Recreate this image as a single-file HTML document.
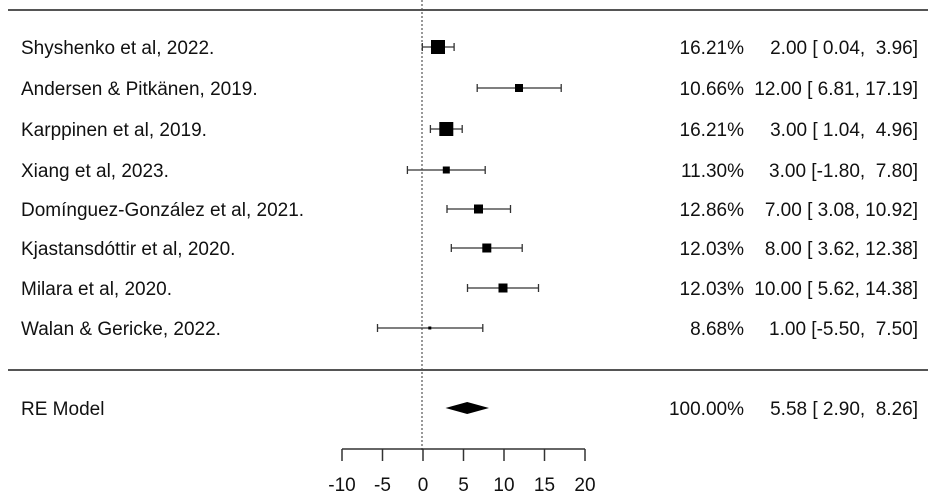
<!DOCTYPE html>
<html><head><meta charset="utf-8"><style>
html,body{margin:0;padding:0;background:#fff;}
svg{display:block;}
text{font-family:"Liberation Sans",Arial,sans-serif;font-size:19px;fill:#111;white-space:pre;}
</style></head><body>
<svg width="928" height="497" viewBox="0 0 928 497" xmlns="http://www.w3.org/2000/svg" xml:space="preserve">
<line x1="8" y1="10" x2="928" y2="10" stroke="#555" stroke-width="2"/>
<line x1="8" y1="370" x2="928" y2="370" stroke="#555" stroke-width="2"/>
<line x1="422" y1="0" x2="422" y2="452" stroke="#555" stroke-width="1.2" stroke-dasharray="2,2"/>
<g stroke="#333" stroke-width="1.3" fill="#000">
<line x1="422.3" y1="47" x2="454.1" y2="47"/><line x1="422.3" y1="43" x2="422.3" y2="51"/><line x1="454.1" y1="43" x2="454.1" y2="51"/>
<rect x="431" y="40" width="14" height="14" stroke="none"/>
<line x1="477.2" y1="88" x2="561.2" y2="88"/><line x1="477.2" y1="84" x2="477.2" y2="92"/><line x1="561.2" y1="84" x2="561.2" y2="92"/>
<rect x="515" y="84" width="8" height="8" stroke="none"/>
<line x1="430.4" y1="129" x2="462.2" y2="129"/><line x1="430.4" y1="125" x2="430.4" y2="133"/><line x1="462.2" y1="125" x2="462.2" y2="133"/>
<rect x="439.3" y="122" width="14" height="14" stroke="none"/>
<line x1="407.4" y1="170" x2="485.2" y2="170"/><line x1="407.4" y1="166" x2="407.4" y2="174"/><line x1="485.2" y1="166" x2="485.2" y2="174"/>
<rect x="442.8" y="166.5" width="7" height="7" stroke="none"/>
<line x1="447" y1="209" x2="510.5" y2="209"/><line x1="447" y1="205" x2="447" y2="213"/><line x1="510.5" y1="205" x2="510.5" y2="213"/>
<rect x="474" y="204.5" width="9" height="9" stroke="none"/>
<line x1="451.3" y1="248" x2="522.2" y2="248"/><line x1="451.3" y1="244" x2="451.3" y2="252"/><line x1="522.2" y1="244" x2="522.2" y2="252"/>
<rect x="482.3" y="243.5" width="9" height="9" stroke="none"/>
<line x1="467.5" y1="288" x2="538.5" y2="288"/><line x1="467.5" y1="284" x2="467.5" y2="292"/><line x1="538.5" y1="284" x2="538.5" y2="292"/>
<rect x="498.5" y="283.5" width="9" height="9" stroke="none"/>
<line x1="377.5" y1="328" x2="482.8" y2="328"/><line x1="377.5" y1="324" x2="377.5" y2="332"/><line x1="482.8" y1="324" x2="482.8" y2="332"/>
<rect x="428.3" y="326.5" width="3" height="3" stroke="none"/>
</g>
<polygon points="445.5,408 467.2,402 489,408 467.2,414" fill="#000"/>
<g stroke="#333" stroke-width="1.5">
<line x1="342" y1="449" x2="585" y2="449"/>
<line x1="342" y1="449" x2="342" y2="461"/><line x1="382.5" y1="449" x2="382.5" y2="461"/><line x1="423" y1="449" x2="423" y2="461"/><line x1="463.5" y1="449" x2="463.5" y2="461"/><line x1="504" y1="449" x2="504" y2="461"/><line x1="544.5" y1="449" x2="544.5" y2="461"/><line x1="585" y1="449" x2="585" y2="461"/>
</g>
<g text-anchor="middle">
<text x="342" y="491">-10</text><text x="382.5" y="491">-5</text><text x="423" y="491">0</text><text x="463.5" y="491">5</text><text x="504" y="491">10</text><text x="544.5" y="491">15</text><text x="585" y="491">20</text>
</g>
<g>
<text x="21" y="54">Shyshenko et al, 2022.</text>
<text x="21" y="95">Andersen &amp; Pitkänen, 2019.</text>
<text x="21" y="136">Karppinen et al, 2019.</text>
<text x="21" y="177">Xiang et al, 2023.</text>
<text x="21" y="216">Domínguez-González et al, 2021.</text>
<text x="21" y="255">Kjastansdóttir et al, 2020.</text>
<text x="21" y="295">Milara et al, 2020.</text>
<text x="21" y="335">Walan &amp; Gericke, 2022.</text>
<text x="21" y="415">RE Model</text>
</g>
<g text-anchor="end">
<text x="744" y="54">16.21%</text><text x="918" y="54">2.00 [ 0.04,  3.96]</text>
<text x="744" y="95">10.66%</text><text x="918" y="95">12.00 [ 6.81, 17.19]</text>
<text x="744" y="136">16.21%</text><text x="918" y="136">3.00 [ 1.04,  4.96]</text>
<text x="744" y="177">11.30%</text><text x="918" y="177">3.00 [-1.80,  7.80]</text>
<text x="744" y="216">12.86%</text><text x="918" y="216">7.00 [ 3.08, 10.92]</text>
<text x="744" y="255">12.03%</text><text x="918" y="255">8.00 [ 3.62, 12.38]</text>
<text x="744" y="295">12.03%</text><text x="918" y="295">10.00 [ 5.62, 14.38]</text>
<text x="744" y="335">8.68%</text><text x="918" y="335">1.00 [-5.50,  7.50]</text>
<text x="744" y="415">100.00%</text><text x="918" y="415">5.58 [ 2.90,  8.26]</text>
</g>
</svg>
</body></html>
